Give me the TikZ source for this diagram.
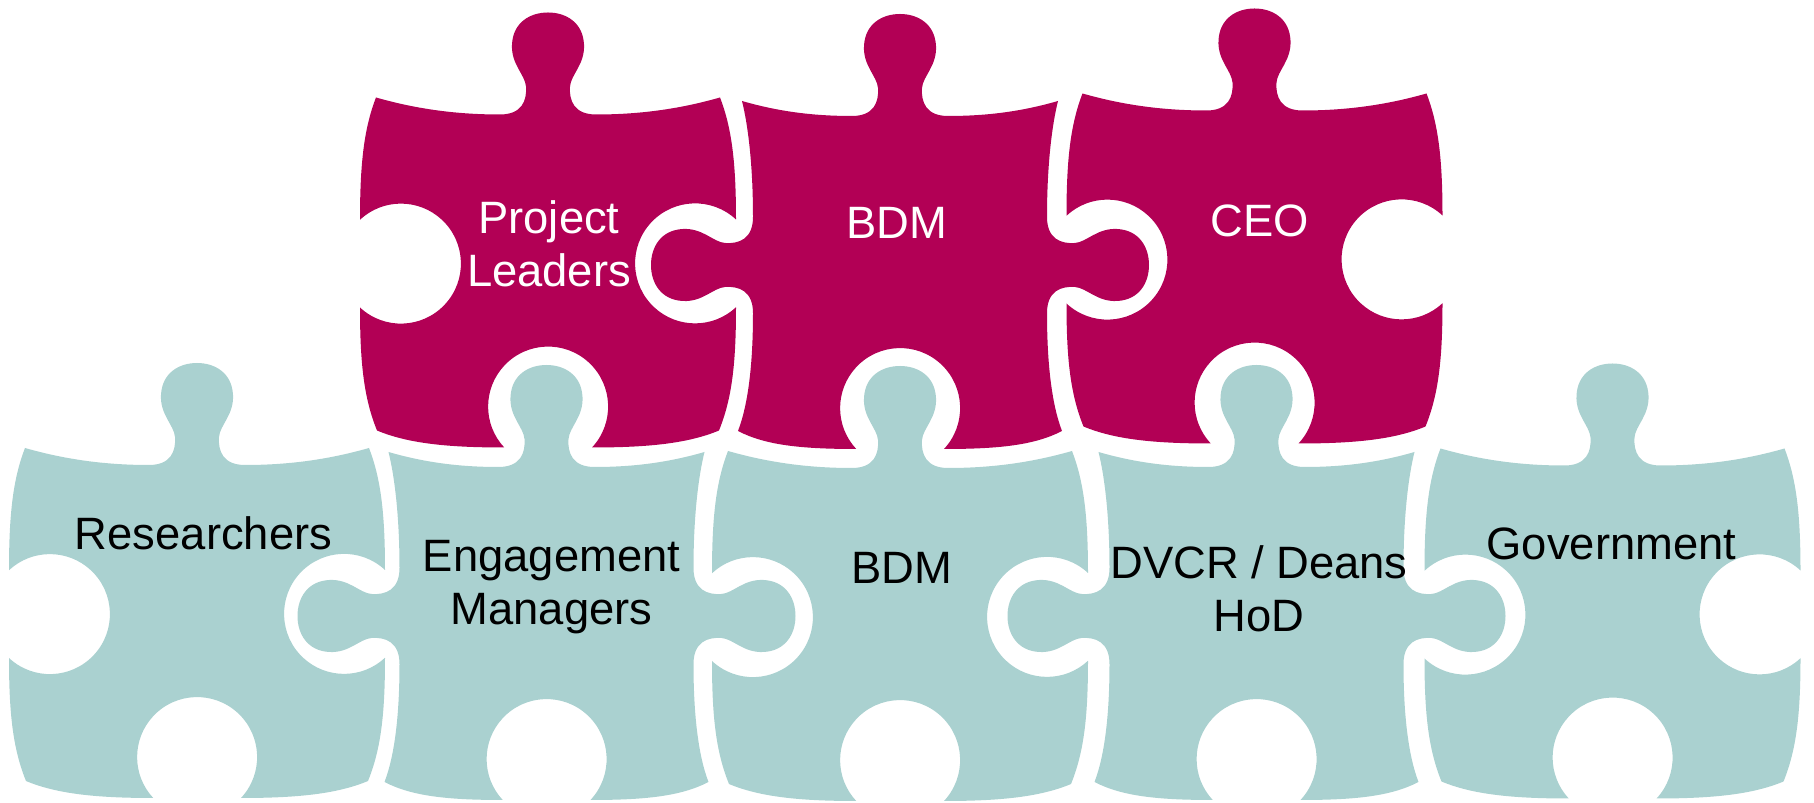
\documentclass[tikz,border=0pt]{standalone}
\usepackage{fontspec}
\setmainfont{Liberation Sans}
\definecolor{TopClr}{rgb}{0.698,0,0.333}
\definecolor{BaseClr}{rgb}{0.667,0.820,0.816}
\tikzset{
  pics/hpiece/.style={code={
    \fill[#1] (-172,166) .. controls (-130,154) and (-90,149) .. (-48,149)
      .. controls (-26,149) and (-21,163) .. (-22,177)
      .. controls (-23,189) and (-37,199) .. (-36,219)
      .. controls (-35,241) and (-18,251) .. (0,251)
      .. controls (18,251) and (35,241) .. (36,219)
      .. controls (37,199) and (23,189) .. (22,177)
      .. controls (21,163) and (26,149) .. (48,149)
      .. controls (90,149) and (130,154) .. (172,166)
      .. controls (184,135) and (188,100) .. (188,44)
      arc[start angle=47,end angle=313,radius=60]
      .. controls (188,-100) and (184,-135) .. (171,-167)
      .. controls (140,-180) and (100,-184) .. (44,-184)
      arc[start angle=-43,end angle=223,radius=60]
      .. controls (-100,-184) and (-140,-180) .. (-171,-167)
      .. controls (-184,-135) and (-188,-100) .. (-188,-44)
      arc[start angle=-133,end angle=133,radius=60]
      .. controls (-188,100) and (-184,135) .. (-172,166) -- cycle;
  }},
  pics/tpiece/.style={code={
    \fill[#1] (-158,164) .. controls (-120,153) and (-85,149) .. (-48,149)
      .. controls (-26,149) and (-21,163) .. (-22,177)
      .. controls (-23,189) and (-37,199) .. (-36,219)
      .. controls (-35,241) and (-18,251) .. (0,251)
      .. controls (18,251) and (35,241) .. (36,219)
      .. controls (37,199) and (23,189) .. (22,177)
      .. controls (21,163) and (26,149) .. (48,149)
      .. controls (85,149) and (120,153) .. (158,164)
      .. controls (152,140) and (147,100) .. (147,48)
      .. controls (147,26) and (161,21) .. (175,22)
      .. controls (187,23) and (197,37) .. (217,36)
      .. controls (239,35) and (249,18) .. (249,0)
      .. controls (249,-18) and (239,-35) .. (217,-36)
      .. controls (197,-37) and (187,-23) .. (175,-22)
      .. controls (161,-21) and (147,-26) .. (147,-48)
      .. controls (147,-100) and (152,-140) .. (162,-166)
      .. controls (135,-180) and (100,-184) .. (44,-184)
      arc[start angle=-43,end angle=223,radius=60]
      .. controls (-100,-184) and (-135,-180) .. (-162,-166)
      .. controls (-152,-140) and (-147,-100) .. (-147,-48)
      .. controls (-147,-26) and (-161,-21) .. (-175,-22)
      .. controls (-187,-23) and (-197,-37) .. (-217,-36)
      .. controls (-239,-35) and (-249,-18) .. (-249,0)
      .. controls (-249,18) and (-239,35) .. (-217,36)
      .. controls (-197,37) and (-187,23) .. (-175,22)
      .. controls (-161,21) and (-147,26) .. (-147,48)
      .. controls (-147,100) and (-152,140) .. (-158,164) -- cycle;
  }},
  lbl/.style={font=\fontsize{12.9}{15.2}\selectfont,align=center,anchor=base}
}

\begin{document}
\begin{tikzpicture}[x=0.01cm,y=0.01cm]
\useasboundingbox (0,0) rectangle (1814,803);

\coordinate (R) at (197,189);
\coordinate (E) at (546.5,187);
\coordinate (B) at (900,186);
\coordinate (D) at (1256.5,187);
\coordinate (G) at (1612.5,188.5);
\coordinate (PL) at (548,539.5);
\coordinate (BT) at (900,538);
\coordinate (C) at (1254.5,543.5);

\pic at (R) {hpiece=BaseClr};
\pic at (E) {tpiece=BaseClr};
\pic at (B) {hpiece=BaseClr};
\pic at (D) {tpiece=BaseClr};
\pic at (G) {hpiece=BaseClr};
\pic at (PL) {hpiece=TopClr};
\pic at (BT) {tpiece=TopClr};
\pic at (C) {hpiece=TopClr};

\node[lbl] (res) at (203.5,253) {Researchers};
\node[lbl] (eng) at (551.5,178) {Engagement\\Managers};
\node[lbl] (bdm) at (901.5,219) {BDM};
\node[lbl] (dvcr) at (1259,171) {DVCR / Deans\\HoD};
\node[lbl] (gov) at (1611.5,243) {Government};
\node[lbl,text=white] (pl) at (549,516) {Project\\Leaders};
\node[lbl,text=white] (bdmt) at (897,564) {BDM};
\node[lbl,text=white] (ceo) at (1259.5,566) {CEO};

\end{tikzpicture}
\end{document}
